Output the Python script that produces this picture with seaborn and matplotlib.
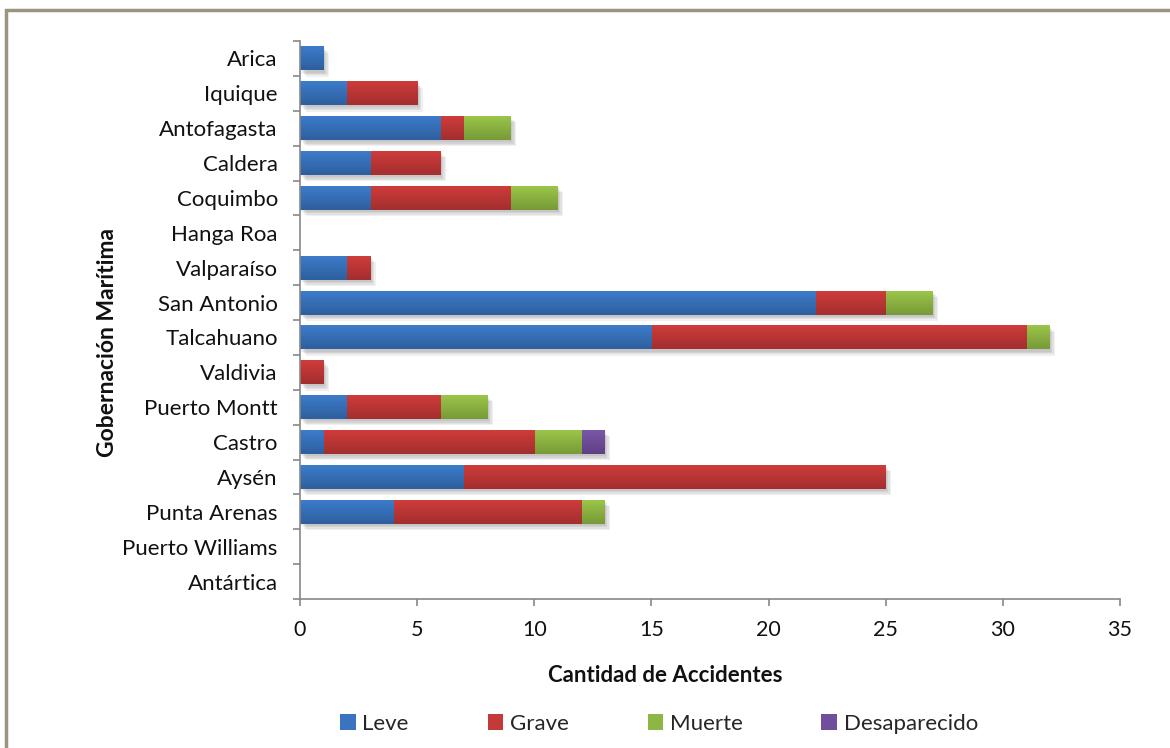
import numpy as np
import pandas as pd
import matplotlib
matplotlib.use("Agg")
import matplotlib.pyplot as plt
import matplotlib.patheffects as pe
from matplotlib.colors import LinearSegmentedColormap, to_rgb
import seaborn as sns
from matplotlib.patches import Rectangle, Patch

categories = ["Arica", "Iquique", "Antofagasta", "Caldera", "Coquimbo", "Hanga Roa",
              "Valparaíso", "San Antonio", "Talcahuano", "Valdivia", "Puerto Montt",
              "Castro", "Aysén", "Punta Arenas", "Puerto Williams", "Antártica"]
leve = [1, 2, 6, 3, 3, 0, 2, 22, 15, 0, 2, 1, 7, 4, 0, 0]
grave = [0, 3, 1, 3, 6, 0, 1, 3, 16, 1, 4, 9, 18, 8, 0, 0]
muerte = [0, 0, 2, 0, 2, 0, 0, 2, 1, 0, 2, 2, 0, 1, 0, 0]
desaparecido = [0, 0, 0, 0, 0, 0, 0, 0, 0, 0, 0, 1, 0, 0, 0, 0]
series_names = ["Leve", "Grave", "Muerte", "Desaparecido"]
colors = ["#3A74BF", "#C43A39", "#8DB644", "#6F4E9C"]
top_colors = ["#3D7DCC", "#D03D3B", "#9CC74A", "#7D58A8"]
bottom_colors = ["#2E5F9E", "#A32E2E", "#779A37", "#5E4185"]
x_ticks = [0, 5, 10, 15, 20, 25, 30, 35]

sns.set_theme(style="white")
plt.rcParams["font.family"] = ["Lato", "DejaVu Sans"]

df = pd.DataFrame({"cat": categories, "Leve": leve, "Grave": grave,
                   "Muerte": muerte, "Desaparecido": desaparecido})
cum = df[series_names].cumsum(axis=1)

fig = plt.figure(figsize=(11.7, 7.48), dpi=100)
ax = fig.add_axes([300/1170, 1-599/748, 820/1170, 558/748])

order = list(reversed(range(len(series_names))))
for k, i in enumerate(order):
    sns.barplot(x=cum[series_names[i]], y=df["cat"], color=colors[i], orient="h", width=0.69,
                ax=ax, saturation=1, linewidth=0)

# gradient fill + soft shadow for each drawn bar
grad = np.linspace(0, 1, 64).reshape(-1, 1)
shadow = [pe.SimplePatchShadow(offset=(o, -o - 0.5), shadow_rgbFace="#000000", alpha=0.06)
          for o in (4, 3, 2, 1)] + [pe.Normal()]
for k, (cont, i) in enumerate(zip(ax.containers, order)):
    cmap = LinearSegmentedColormap.from_list("g", [to_rgb(top_colors[i]), to_rgb(bottom_colors[i])])
    for p in cont.patches:
        w = p.get_width()
        if w <= 0:
            continue
        x0, y0 = p.get_x(), p.get_y()
        h = p.get_height()
        p.set_zorder(3 + k * 0.01)
        if k == 0:
            p.set_path_effects(shadow)
        im = ax.imshow(grad, cmap=cmap, aspect="auto", extent=[x0, x0 + w, y0 + h, y0],
                       zorder=3 + k * 0.01 + 0.005, interpolation="bilinear")
        im.set_clip_path(p)

ax.set_xlim(0, 35)
ax.set_ylim(len(categories) - 0.5, -0.5)
ax.set_xticks(x_ticks)
ax.set_xticklabels([str(t) for t in x_ticks], fontsize=15.5, color="#111111")
ax.tick_params(axis="y", length=0, labelsize=16, labelcolor="#111111", pad=16)
ax.tick_params(axis="x", length=5, color="#888888", direction="out", width=1.2, pad=10)
ax.set_yticks(np.arange(-0.5, len(categories), 1), minor=True)
ax.tick_params(axis="y", which="minor", length=5, color="#888888", width=1.2, left=True)
ax.tick_params(axis="x", bottom=True)
ax.set_xlabel("")
ax.set_ylabel("")
for s in ["top", "right"]:
    ax.spines[s].set_visible(False)
for s in ["left", "bottom"]:
    ax.spines[s].set_color("#888888")
    ax.spines[s].set_linewidth(1.2)
    ax.spines[s].set_zorder(5)
ax.grid(False)

fig.text(665/1170, 1-675/748, "Cantidad de Accidentes", ha="center", va="center",
         fontsize=16, fontweight="bold", color="#111111")
fig.text(108/1170, 1-343/748, "Gobernación Marítima", ha="center", va="center",
         rotation=90, fontsize=16.5, fontweight="bold", color="#111111")

handles = [Patch(facecolor=c, edgecolor="none", label=n) for n, c in zip(series_names, colors)]
fig.legend(handles=handles, loc="center", bbox_to_anchor=(659/1170, 1-724/748), ncol=4,
           frameon=False, fontsize=16, handlelength=0.7, handleheight=0.7,
           handletextpad=0.3, columnspacing=3.55)

fig.patches.append(Rectangle((6/1170, -0.1), 1.2, 1-10/748 + 0.1, transform=fig.transFigure,
                             fill=False, edgecolor="#9C9480", linewidth=2.5))

fig.savefig("out.png", dpi=100)
